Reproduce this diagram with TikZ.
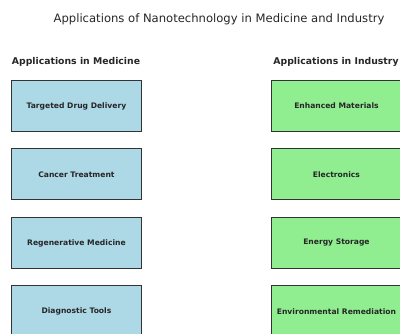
\documentclass[tikz,border=0pt]{standalone}
\usepackage{fontspec}
\setmainfont{DejaVu Sans}
\definecolor{medblue}{HTML}{ADD8E6}
\definecolor{indgreen}{HTML}{90EE90}
\definecolor{txt}{HTML}{262626}
\definecolor{edge}{HTML}{333333}
\begin{document}
\begin{tikzpicture}[x=1pt,y=-1pt,
  appbox/.style={draw=edge, line width=0.9pt, minimum width=130pt, minimum height=51pt, inner sep=0pt, anchor=north west, font=\fontsize{7.6}{9}\selectfont\bfseries, text=txt},
  medbox/.style={appbox, fill=medblue},
  indbox/.style={appbox, fill=indgreen},
  heading/.style={font=\fontsize{9.3}{11}\selectfont\bfseries, text=txt}]
\useasboundingbox (0,0) rectangle (400,334);
\node[font=\fontsize{11.6}{14}\selectfont, text=txt] (title) at (219,19) {Applications of Nanotechnology in Medicine and Industry};
\node[heading] (hmed) at (76,62) {Applications in Medicine};
\node[heading] (hind) at (336,62) {Applications in Industry};
\node[medbox] (m1) at (11,80) {Targeted Drug Delivery};
\node[medbox] (m2) at (11,148.5) {Cancer Treatment};
\node[medbox] (m3) at (11,217) {Regenerative Medicine};
\node[medbox] (m4) at (11,285.5) {Diagnostic Tools};
\node[indbox] (i1) at (271,80) {Enhanced Materials};
\node[indbox] (i2) at (271,148.5) {Electronics};
\node[indbox] (i3) at (271,217) {Energy Storage};
\node[indbox] (i4) at (271,285.5) {Environmental Remediation};
\end{tikzpicture}
\end{document}
